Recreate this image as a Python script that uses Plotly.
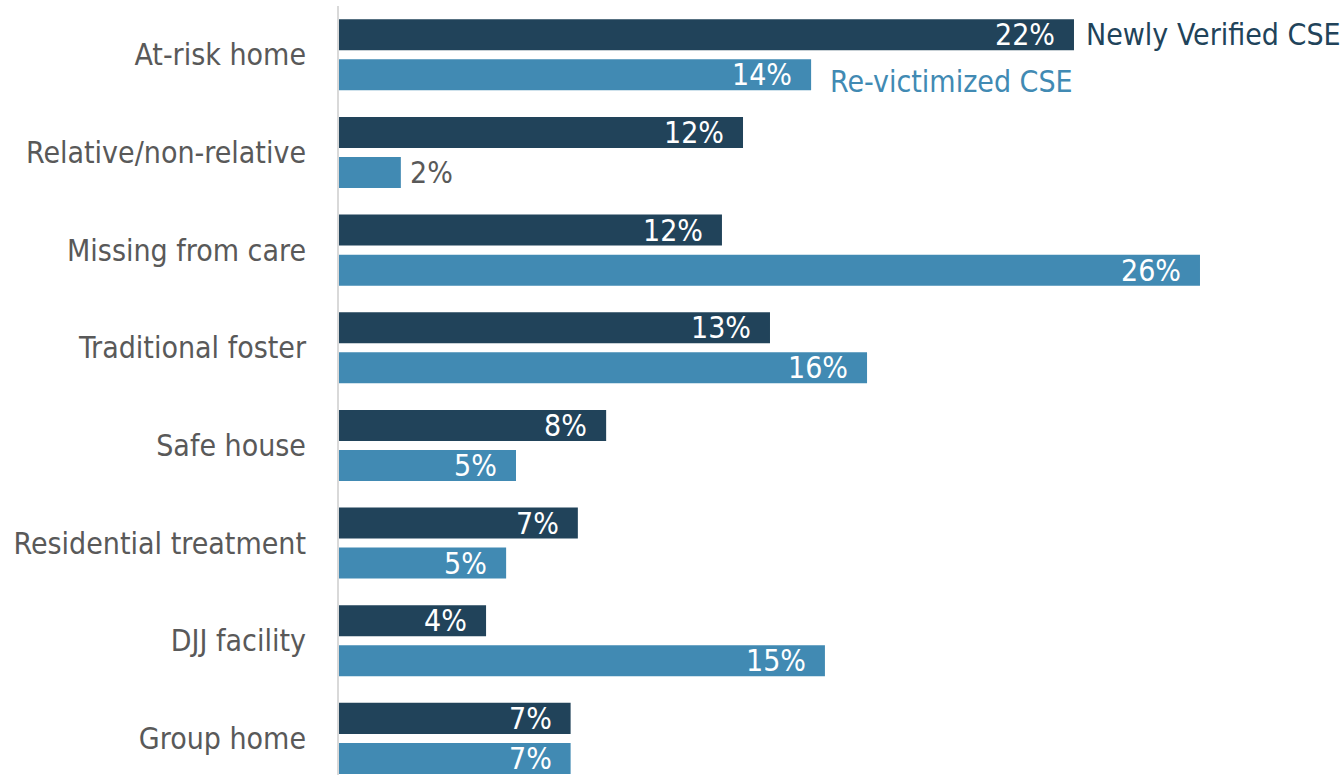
import plotly.graph_objects as go

categories = ["At-risk home", "Relative/non-relative", "Missing from care", "Traditional foster",
              "Safe house", "Residential treatment", "DJJ facility", "Group home"]
newly_verified = [22.34, 12.28, 11.64, 13.10, 8.12, 7.26, 4.47, 7.04]
re_victimized = [14.35, 1.88, 26.17, 16.05, 5.38, 5.08, 14.77, 7.04]
series_names = ["Newly Verified CSE", "Re-victimized CSE"]

DARK = "#21435A"
LIGHT = "#418AB3"
GRAY = "#595959"
FONT = "DejaVu Sans Condensed, Liberation Sans Narrow, Roboto, sans-serif"
FS = 30
BARGAP = 0.18
GROUPGAP = 0.225

fig = go.Figure()
for name, vals, col in [(series_names[0], newly_verified, DARK), (series_names[1], re_victimized, LIGHT)]:
    fig.add_trace(go.Bar(y=list(range(len(categories))), x=vals, orientation="h", name=name,
                         marker=dict(color=col, line=dict(width=0)), hoverinfo="skip"))

off = (1 - BARGAP) / 4
annotations = []
for i in range(len(categories)):
    for vals, sign in [(newly_verified, -1), (re_victimized, 1)]:
        v = vals[i]
        label = f"{round(v)}%"
        if v < 3:
            annotations.append(dict(x=v, y=i + sign * off, text=label, showarrow=False, xanchor="left",
                                    xshift=7, font=dict(family=FONT, size=FS, color=GRAY)))
        else:
            annotations.append(dict(x=v, y=i + sign * off, text=label, showarrow=False, xanchor="right",
                                    xshift=-17, font=dict(family=FONT, size=FS, color="white")))

annotations.append(dict(x=newly_verified[0], y=0 - off, text=series_names[0], showarrow=False,
                        xanchor="left", xshift=10, font=dict(family=FONT, size=FS, color=DARK)))
annotations.append(dict(x=re_victimized[0], y=0 + off, text=series_names[1], showarrow=False,
                        xanchor="left", xshift=17, yshift=-7, font=dict(family=FONT, size=FS, color=LIGHT)))

fig.update_layout(
    width=1344, height=775,
    margin=dict(l=339, r=0, t=6, b=0),
    barmode="group", bargap=BARGAP, bargroupgap=GROUPGAP,
    plot_bgcolor="white", paper_bgcolor="white",
    showlegend=False,
    annotations=annotations,
    xaxis=dict(range=[0, 1005 / 32.9], visible=False, showgrid=False, zeroline=False),
    yaxis=dict(range=[7.375, -0.5], tickmode="array", tickvals=list(range(len(categories))),
               ticktext=categories, showgrid=False, zeroline=False, automargin=False,
               showline=True, linecolor="#D9D9D9", linewidth=2, ticks="",
               ticklabelstandoff=25,
               tickfont=dict(family=FONT, size=FS, color=GRAY)),
)

fig.write_html("out.html")
